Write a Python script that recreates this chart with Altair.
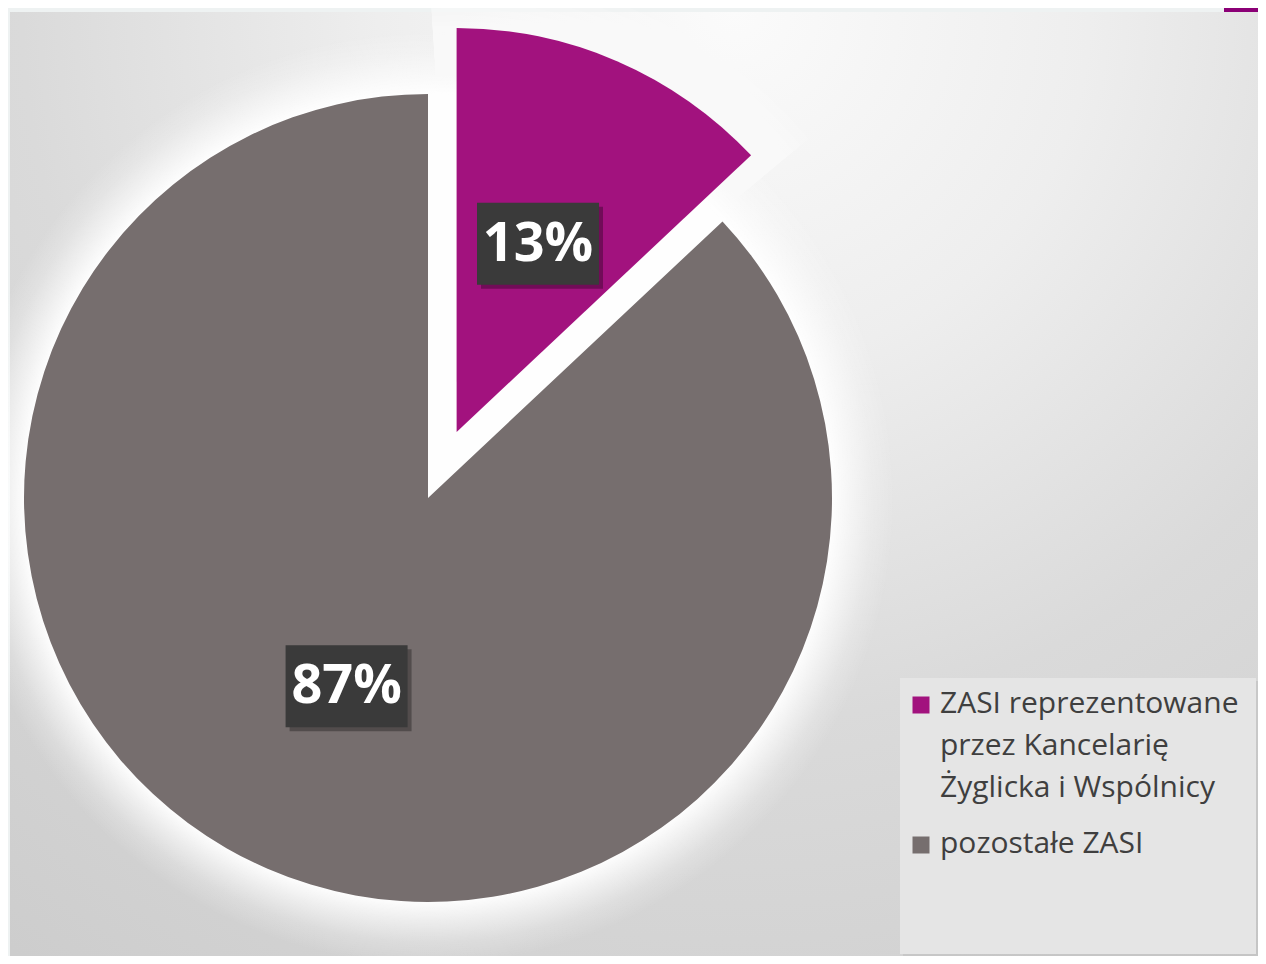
import altair as alt
import pandas as pd

# ---- data ----
categories = ["ZASI reprezentowane przez Kancelarię Żyglicka i Wspólnicy", "pozostałe ZASI"]
values = [13, 87]
legend_lines = [["ZASI reprezentowane", "przez Kancelarię", "Żyglicka i Wspólnicy"], ["pozostałe ZASI"]]

# ---- style / layout ----
colors = ["#A2127E", "#766E6E"]
W, H = 1250, 948
CX, CY = 420, 490
R = 404
EXPLODE = [72, 0]
LABEL_R = 205
BOX_W, BOX_H = 122, 82
LEG_X_SYM, LEG_X_TXT = 913, 932
LEG_Y0, LINE_H, ITEM_GAP = 705, 42, 14
GLOW = 62

df = pd.DataFrame({"category": categories, "value": values,
                   "idx": list(range(len(categories))), "explode": EXPLODE})

color_scale = alt.Scale(domain=categories, range=colors)

base = (
    alt.Chart(df)
    .transform_joinaggregate(total="sum(value)")
    .transform_window(cum="sum(value)", frame=[None, 0], sort=[alt.SortField("idx")])
    .transform_calculate(
        t1="datum.cum / datum.total * 2 * PI",
        t0="(datum.cum - datum.value) / datum.total * 2 * PI",
        pct="format(datum.value / datum.total, '.0%')",
    )
    .transform_calculate(mid="(datum.t0 + datum.t1) / 2")
    .transform_calculate(
        cx=f"{CX} + datum.explode * sin(datum.mid)",
        cy=f"{CY} - datum.explode * cos(datum.mid)",
    )
    .transform_calculate(
        lx=f"datum.cx + {LABEL_R} * sin(datum.mid)",
        ly=f"datum.cy - {LABEL_R} * cos(datum.mid)",
        g0="datum.t0 - 0.06",
        g1="datum.t1 + 0.06",
    )
    .transform_calculate(
        bx0=f"datum.lx - {BOX_W / 2}", bx1=f"datum.lx + {BOX_W / 2}",
        by0=f"datum.ly - {BOX_H / 2}", by1=f"datum.ly + {BOX_H / 2}",
        sx0=f"datum.lx - {BOX_W / 2} + 4", sx1=f"datum.lx + {BOX_W / 2} + 4",
        sy0=f"datum.ly - {BOX_H / 2} + 4", sy1=f"datum.ly + {BOX_H / 2} + 4",
    )
)

XP = lambda f: alt.X(f, scale=None, axis=None)
YP = lambda f: alt.Y(f, scale=None, axis=None)

one = alt.Chart(pd.DataFrame({"k": [0]}))

# panel background
panel = one.mark_rect(
    color=alt.RadialGradient(
        gradient="radial", x1=0.58, y1=0.12, r1=0, x2=0.58, y2=0.12, r2=0.95,
        stops=[alt.GradientStop(offset=0, color="#fbfbfb"),
               alt.GradientStop(offset=0.3, color="#eeeeee"),
               alt.GradientStop(offset=0.6, color="#dadada"),
               alt.GradientStop(offset=1, color="#cdcdcd")])
).encode(x=alt.value(2), x2=alt.value(W), y=alt.value(4), y2=alt.value(H))

corner = one.mark_rect(color="#8B0076").encode(
    x=alt.value(1216), x2=alt.value(W), y=alt.value(0), y2=alt.value(4))

# soft glow around the main pie
k = R / (R + GLOW)
glow_main = one.mark_arc(
    radius=R + GLOW, theta=0, theta2=6.2832,
    color=alt.RadialGradient(
        gradient="radial", x1=0.5, y1=0.5, r1=0, x2=0.5, y2=0.5, r2=0.5,
        stops=[alt.GradientStop(offset=0, color="rgba(255,255,255,0.95)"),
               alt.GradientStop(offset=k, color="rgba(255,255,255,0.95)"),
               alt.GradientStop(offset=k + (1 - k) * 0.3, color="rgba(255,255,255,0.6)"),
               alt.GradientStop(offset=k + (1 - k) * 0.65, color="rgba(255,255,255,0.22)"),
               alt.GradientStop(offset=1, color="rgba(255,255,255,0)")])
).encode(x=alt.value(CX), y=alt.value(CY))

# stepped glow around exploded slice
glows = []
for d in [54, 44, 35, 27, 20, 13, 7, 3]:
    glows.append(
        base.transform_filter("datum.explode > 0")
        .mark_arc(radius=R + d, color="white", opacity=0.13)
        .encode(x=XP("cx:Q"), y=YP("cy:Q"),
                theta=alt.Theta("g0:Q", scale=None), theta2="g1:Q")
    )

slices = base.mark_arc(radius=R).encode(
    x=XP("cx:Q"), y=YP("cy:Q"),
    theta=alt.Theta("t0:Q", scale=None), theta2="t1:Q",
    color=alt.Color("category:N", scale=color_scale, legend=None),
)

box_shadow = base.mark_rect(color="black", opacity=0.3).encode(
    x=XP("sx0:Q"), x2="sx1:Q", y=YP("sy0:Q"), y2="sy1:Q")
box = base.mark_rect(color="#3a3a3a").encode(
    x=XP("bx0:Q"), x2="bx1:Q", y=YP("by0:Q"), y2="by1:Q")
pct_text = base.mark_text(
    font="Open Sans", fontWeight="bold", fontSize=54, color="white",
    align="center", baseline="middle", dy=1
).encode(x=XP("lx:Q"), y=YP("ly:Q"), text="pct:N")

# legend (manual)
leg_rows = []
acc = 0
for i, (cat, lines) in enumerate(zip(categories, legend_lines)):
    y = LEG_Y0 + acc * LINE_H + i * ITEM_GAP
    leg_rows.append({"category": cat, "lines": lines, "ty": y, "sy": y - 8})
    acc += len(lines)
leg_df = pd.DataFrame(leg_rows)

leg_shadow = one.mark_rect(color="#b8b8b8", opacity=0.45).encode(
    x=alt.value(895), x2=alt.value(W), y=alt.value(673), y2=alt.value(H))
leg_box = one.mark_rect(color="#e5e5e5").encode(
    x=alt.value(892), x2=alt.value(W - 2), y=alt.value(670), y2=alt.value(H - 2))
leg_sym = alt.Chart(leg_df).mark_square(size=289, opacity=1).encode(
    x=alt.value(LEG_X_SYM), y=YP("sy:Q"),
    color=alt.Color("category:N", scale=color_scale, legend=None))
leg_txt = alt.Chart(leg_df).mark_text(
    font="Open Sans", fontSize=30, color="#3f3f3f", align="left",
    baseline="alphabetic", lineHeight=LINE_H
).encode(x=alt.value(LEG_X_TXT), y=YP("ty:Q"), text="lines")

chart = alt.layer(
    panel, corner, glow_main, *glows, slices, box_shadow, box, pct_text,
    leg_shadow, leg_box, leg_sym, leg_txt
).properties(
    width=W, height=H, background="#eef2f2", padding=0,
    autosize=alt.AutoSizeParams(type="none"),
).configure_view(stroke=None)

chart.save("out.html", embed_options={"renderer": "svg", "actions": False})
